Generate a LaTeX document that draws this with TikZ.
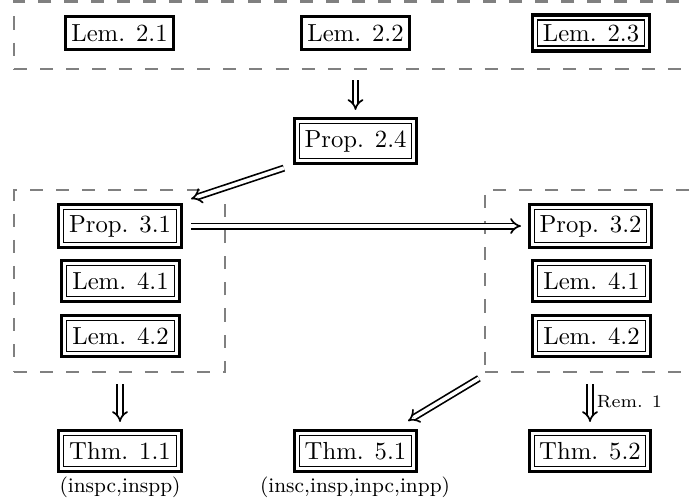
\documentclass[tikz,border=0pt]{standalone}
\usetikzlibrary{arrows.meta}
\usepackage{fontspec}
\newdimen\pxu \pxu=0.413pt
\begin{document}
\begin{tikzpicture}[x=0.413pt, y=-0.413pt,
  every node/.style={font=\fontsize{10.2}{12}\selectfont},
  sbox/.style={draw, line width=1pt, inner sep=0pt, minimum width=108\pxu, minimum height=33\pxu},
  dbox/.style n args={2}{draw, line width=1.3pt, inner sep=0pt,
    minimum width=#1\pxu, minimum height=#2\pxu,
    path picture={\draw[line width=0.65pt]
      ([shift={(2pt,2pt)}]path picture bounding box.south west) rectangle
      ([shift={(-2pt,-2pt)}]path picture bounding box.north east);}},
  grp/.style n args={2}{draw=gray, line width=0.9pt, dash pattern=on 5.4pt off 5.4pt,
    inner sep=0pt, minimum width=#1\pxu, minimum height=#2\pxu},
  dimp/.style={-{Implies}, double, double distance=1.5pt, line width=0.7pt},
  ann/.style={inner sep=0pt, font=\fontsize{8.6}{10}\selectfont}
]
\useasboundingbox (0,0) rectangle (690,501);

% groups
\node[grp={691}{67.5}] (gt) at (359.5,35.25) {};
\node[grp={211}{182}] (gl) at (119.5,281) {};
\node[grp={220}{182.5}] (gr) at (595,281) {};

% top row
\node[sbox] (l21) at (119.5,33) {Lem. 2.1};
\node[sbox] (l22) at (355.5,33) {Lem. 2.2};
\node[dbox={117}{36}] (l23) at (591,33) {Lem. 2.3};

\node[dbox={122}{45}] (p24) at (355.5,141) {Prop. 2.4};

% left group
\node[dbox={123}{43}] (p31) at (120,226) {Prop. 3.1};
\node[dbox={118}{41}] (l41a) at (120.5,281) {Lem. 4.1};
\node[dbox={118}{41}] (l42a) at (120.5,336) {Lem. 4.2};

% right group
\node[dbox={122}{43}] (p32) at (590.5,226) {Prop. 3.2};
\node[dbox={118}{41}] (l41b) at (591.5,281) {Lem. 4.1};
\node[dbox={118}{41}] (l42b) at (591.5,336) {Lem. 4.2};

% bottom row
\node[dbox={123}{41}] (t11) at (120,451) {Thm. 1.1};
\node[dbox={122}{41}] (t51) at (355.5,451) {Thm. 5.1};
\node[dbox={121}{41}] (t52) at (590,451) {Thm. 5.2};

\node[ann] (a11) at (120,487) {(inspc,inspp)};
\node[ann] (a51) at (355,487) {(insc,insp,inpc,inpp)};

% connectors
\draw[dimp, shorten <=10\pxu, shorten >=7\pxu] (gt.south -| p24.north) -- (p24.north);
\draw[dimp] ([shift={(-9,3)}]p24.south west) -- ([shift={(8,-4)}]p31.north east);
\draw[dimp, shorten <=8\pxu, shorten >=7\pxu] (p31.east) -- (p32.west);
\draw[dimp, shorten <=11\pxu, shorten >=7\pxu] (gl.south -| t11.north) -- (t11.north);
\draw[dimp] ([shift={(-5,5)}]gr.south west) -- ([shift={(-10,-8)}]t51.north east);
\draw[dimp, shorten <=11\pxu, shorten >=7\pxu] (gr.south -| t52.north) -- node[right, font=\fontsize{7.3}{9}\selectfont, inner sep=2.5pt] {Rem. 1} (t52.north);
\end{tikzpicture}
\end{document}
